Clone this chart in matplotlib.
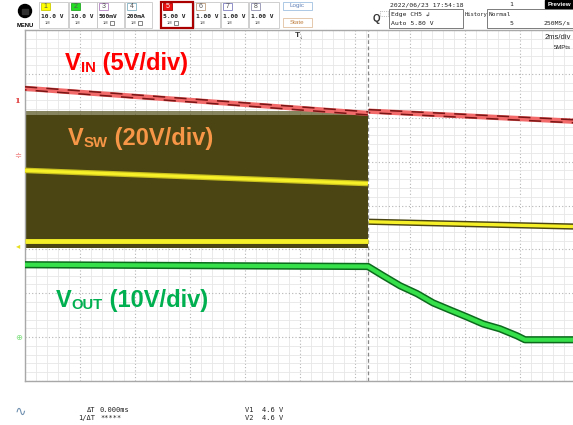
import matplotlib
matplotlib.use("Agg")
import matplotlib.pyplot as plt
import numpy as np
from matplotlib.patches import Rectangle, Circle

plt.rcParams["font.family"] = ["Liberation Sans", "DejaVu Sans"]

# ---- trace data (time in ms, amplitude in screen divisions) ----
t_vin_a = [-10.0, 2.47]
v_vin_a = [2.67, 2.10]
t_vin_b = [2.50, 9.95]
v_vin_b = [2.15, 1.92]

t_sw_on = [-10.0, 2.47]
sw_top = [2.06, 2.06]
sw_bottom = [-0.96, -0.96]
sw_mid = [0.80, 0.50]
sw_low = [-0.82, -0.82]
t_sw_off = [2.50, 9.95]
sw_off = [-0.37, -0.48]

t_vout = [-10.0, 2.47, 3.02, 3.64, 4.26, 4.84, 5.45, 6.07, 6.66, 7.27, 7.89, 8.18, 9.95]
v_vout = [-1.35, -1.39, -1.60, -1.83, -2.01, -2.22, -2.38, -2.54, -2.70, -2.81, -2.97, -3.06, -3.06]

t_cursor = 2.47

channels = ["1", "2", "3", "4", "5", "6", "7", "8"]
ch_scale = ["10.0 V", "10.0 V", "500mV", "200mA", "5.00 V", "1.00 V", "1.00 V", "1.00 V"]
ch_x0 = [39, 69, 97, 125, 161, 194, 221, 249]
ch_x1 = [68, 97, 124, 152, 193, 220, 248, 279]
ch_tag = ["#ffff00", "#22dd22", "white", "white", "#ee1111", "white", "white", "white"]
ch_edge = ["#cccc00", "#22aa22", "#b080c0", "#80b0c0", "#aa0000", "#c0a080", "#8080c0", "#9090b0"]

W, H = 573, 425
fig = plt.figure(figsize=(W / 100, H / 100), dpi=100)

# ---- scope screen ----
ax = fig.add_axes([25 / W, (H - 381) / H, 550 / W, 351 / H])
ax.set_xlim(-10, 10)
ax.set_ylim(-4, 4)
ax.set_xticks(np.arange(-10, 10.01, 2))
ax.set_xticks(np.arange(-10, 10.01, 0.4), minor=True)
ax.set_yticks(np.arange(-4, 4.01, 1))
ax.set_yticks(np.arange(-4, 4.01, 0.2), minor=True)
ax.tick_params(which="both", length=0, labelbottom=False, labelleft=False)
ax.grid(which="minor", color="#e6e6e6", lw=0.6, ls="-")
ax.grid(which="major", color="#b4b4b4", lw=0.8, ls=(0, (1, 2)))
ax.set_axisbelow(True)
for s in ax.spines.values():
    s.set_color("#a8a8a8")
    s.set_linewidth(1.0)

ax.axvline(t_cursor, color="#8a8a8a", lw=0.9, ls=(0, (3, 2)), zorder=1)

# VSW (switching node) envelope
ax.fill_between(t_sw_on, sw_bottom, sw_top, color="#4a4512", lw=0, zorder=2)
ax.fill_between(t_sw_on, [t + 0.09 for t in sw_top], sw_top, color="#5e5a2a", alpha=0.75, lw=0, zorder=2)
ax.plot(t_sw_on, sw_mid, color="#c9c020", lw=4.0, solid_capstyle="butt", zorder=3)
ax.plot(t_sw_on, sw_mid, color="#f6f028", lw=2.2, solid_capstyle="butt", zorder=3)
ax.plot(t_sw_on, sw_low, color="#f6f028", lw=3.5, solid_capstyle="butt", zorder=3)
ax.plot(t_sw_off, sw_off, color="#4a4512", lw=4.5, solid_capstyle="butt", zorder=3)
ax.plot(t_sw_off, sw_off, color="#f6f028", lw=2.4, solid_capstyle="butt", zorder=3)

# VIN
for tt, vv in [(t_vin_a, v_vin_a), (t_vin_b, v_vin_b)]:
    ax.plot(tt, vv, color="#f26a6a", lw=3.8, solid_capstyle="butt", zorder=4)
    ax.plot(tt, [v + 0.035 for v in vv], color="#7a1515", lw=1.1, ls=(0, (8, 6)), zorder=4)
    ax.plot(tt, [v - 0.035 for v in vv], color="#7a1515", lw=1.1, ls=(7, (8, 6)), zorder=4)

# VOUT
ax.plot(t_vout, v_vout, color="#0b6a1c", lw=5.2, solid_joinstyle="round", zorder=5)
ax.plot(t_vout, v_vout, color="#36e04a", lw=3.0, solid_joinstyle="round", zorder=5)


def label(x, y, main, sub, rest, color):
    t1 = ax.text(x, y, main, color=color, fontsize=17, fontweight="bold",
                 transform=ax.transAxes, va="bottom", ha="left", zorder=6)
    t2 = ax.annotate(sub, xy=(1, 0), xycoords=t1, color=color, fontsize=10.7,
                     fontweight="bold", va="bottom", ha="left", zorder=6)
    ax.annotate(rest, xy=(1, 0), xycoords=(t2, t1), color=color, fontsize=17,
                fontweight="bold", va="bottom", ha="left", zorder=6)


label((65 - 25) / 550, (381 - 75) / 351, "V", "IN", " (5V/div)", "#ff0000")
label((68 - 25) / 550, (381 - 150) / 351, "V", "SW", " (20V/div)", "#f79646")
label((56 - 25) / 550, (381 - 312) / 351, "V", "OUT", " (10V/div)", "#00b050")

# ---- overlay for header / footer in pixel units ----
ov = fig.add_axes([0, 0, 1, 1], zorder=10)
ov.set_xlim(0, W)
ov.set_ylim(H, 0)
ov.axis("off")
ov.patch.set_alpha(0)

mono = "DejaVu Sans Mono"

ov.add_patch(Circle((25, 11), 6.5, color="black"))
ov.add_patch(Rectangle((22, 8.5), 6, 5, color="#303030"))
ov.text(25, 25, "MENU", fontsize=4.2, fontweight="bold", ha="center", va="center")

for i, ch in enumerate(channels):
    x0, x1 = ch_x0[i], ch_x1[i]
    lw = 1.6 if ch == "5" else 0.6
    ov.add_patch(Rectangle((x0, 2), x1 - x0, 26, fill=False, ec=ch_edge[i] if ch == "5" else "#c8c8c8", lw=lw))
    ov.add_patch(Rectangle((x0 + 2, 3), 9, 7, fc=ch_tag[i], ec=ch_edge[i], lw=0.6))
    ov.text(x0 + 6.5, 6.7, ch, fontsize=5, ha="center", va="center",
            color="white" if ch == "5" else "#555555")
    ov.text(x0 + 2, 16, ch_scale[i], fontsize=4.5, fontweight="bold", family=mono,
            ha="left", va="center", color="#222222")
    ov.text(x0 + 8, 23, "1M", fontsize=2.8, ha="center", va="center", color="#444444")
    if ch in ("3", "4", "5"):
        ov.add_patch(Rectangle((x0 + 13, 20.5), 4, 4, fill=False, ec="#555555", lw=0.5))

ov.add_patch(Rectangle((283, 1.5), 29, 8, fill=False, ec="#a0c0e0", lw=0.6))
ov.text(297.5, 5.7, "Logic", fontsize=4.5, ha="center", va="center", color="#6080b8")
ov.add_patch(Rectangle((283, 18), 29, 9, fill=False, ec="#e0c0a0", lw=0.6))
ov.text(297.5, 22.5, "State", fontsize=4.5, ha="center", va="center", color="#c08040")

ov.text(376, 19, "Q", fontsize=7, fontweight="bold", ha="center", va="center", color="#333333")
ov.add_patch(Rectangle((380, 11), 8, 5, fill=False, ec="#888888", lw=0.5, ls=":"))

ov.text(390, 4.5, "2022/06/23 17:54:18", fontsize=4.6, family=mono, va="center", color="#222222")
ov.text(511, 4.5, "1", fontsize=4.6, family=mono, va="center", ha="center", color="#222222")
ov.add_patch(Rectangle((545, 0), 28, 8, color="black"))
ov.text(559, 4, "Preview", fontsize=4.5, color="white", ha="center", va="center", fontweight="bold")

ov.add_patch(Rectangle((389, 9), 74, 19, fill=False, ec="#666666", lw=0.6))
ov.text(391, 14.5, "Edge CH5 \u21b2", fontsize=4.6, family=mono, va="center", color="#222222")
ov.text(391, 23, "Auto 5.80 V", fontsize=4.6, family=mono, va="center", color="#222222")
ov.text(464.5, 14.5, "History", fontsize=4.0, family=mono, va="center", color="#222222")
ov.text(513, 23, "5", fontsize=4.6, family=mono, va="center", ha="right", color="#222222")
ov.add_patch(Rectangle((487, 9), 86, 19, fill=False, ec="#666666", lw=0.6))
ov.text(489, 14.5, "Normal", fontsize=4.4, family=mono, va="center", color="#222222")
ov.text(571, 23, "250MS/s", fontsize=4.6, family=mono, va="center", ha="right", color="#222222")

ov.text(571, 37, "2ms/div", fontsize=5.5, va="center", ha="right", color="#222222")
ov.text(571, 47, "5MPts", fontsize=4.3, va="center", ha="right", color="#222222")
ov.text(297, 35, "T", fontsize=6, fontweight="bold", va="center", ha="center", color="#333333")
ov.text(301, 37, "\u2193", fontsize=4, va="center", ha="center", color="#333333")

# channel ground markers on left edge
ov.text(17, 101, "1", fontsize=6, fontweight="bold", family="DejaVu Serif", va="center", ha="center", color="#e04040")
ov.text(18, 157, "\u2251", fontsize=6, va="center", ha="center", color="#f08080")
ov.text(18, 247, "\u25c2", fontsize=6, va="center", ha="center", color="#e8e020")
ov.text(19, 339, "\u2295", fontsize=6, va="center", ha="center", color="#80e080")

# footer readouts
ov.text(20, 412, "\u223f", fontsize=10, va="center", ha="center", color="#7090b0")
ov.text(95, 410, "\u0394T", fontsize=5, family=mono, va="center", ha="right", color="#222222")
ov.text(100, 410, "0.000ms", fontsize=5, family=mono, va="center", ha="left", color="#222222")
ov.text(95, 418, "1/\u0394T", fontsize=5, family=mono, va="center", ha="right", color="#222222")
ov.text(100, 418, "*****", fontsize=5, family=mono, va="center", ha="left", color="#222222")
ov.text(245, 410, "V1  4.6 V", fontsize=5, family=mono, va="center", ha="left", color="#222222")
ov.text(245, 418, "V2  4.6 V", fontsize=5, family=mono, va="center", ha="left", color="#222222")

fig.savefig("out.png", dpi=100)
